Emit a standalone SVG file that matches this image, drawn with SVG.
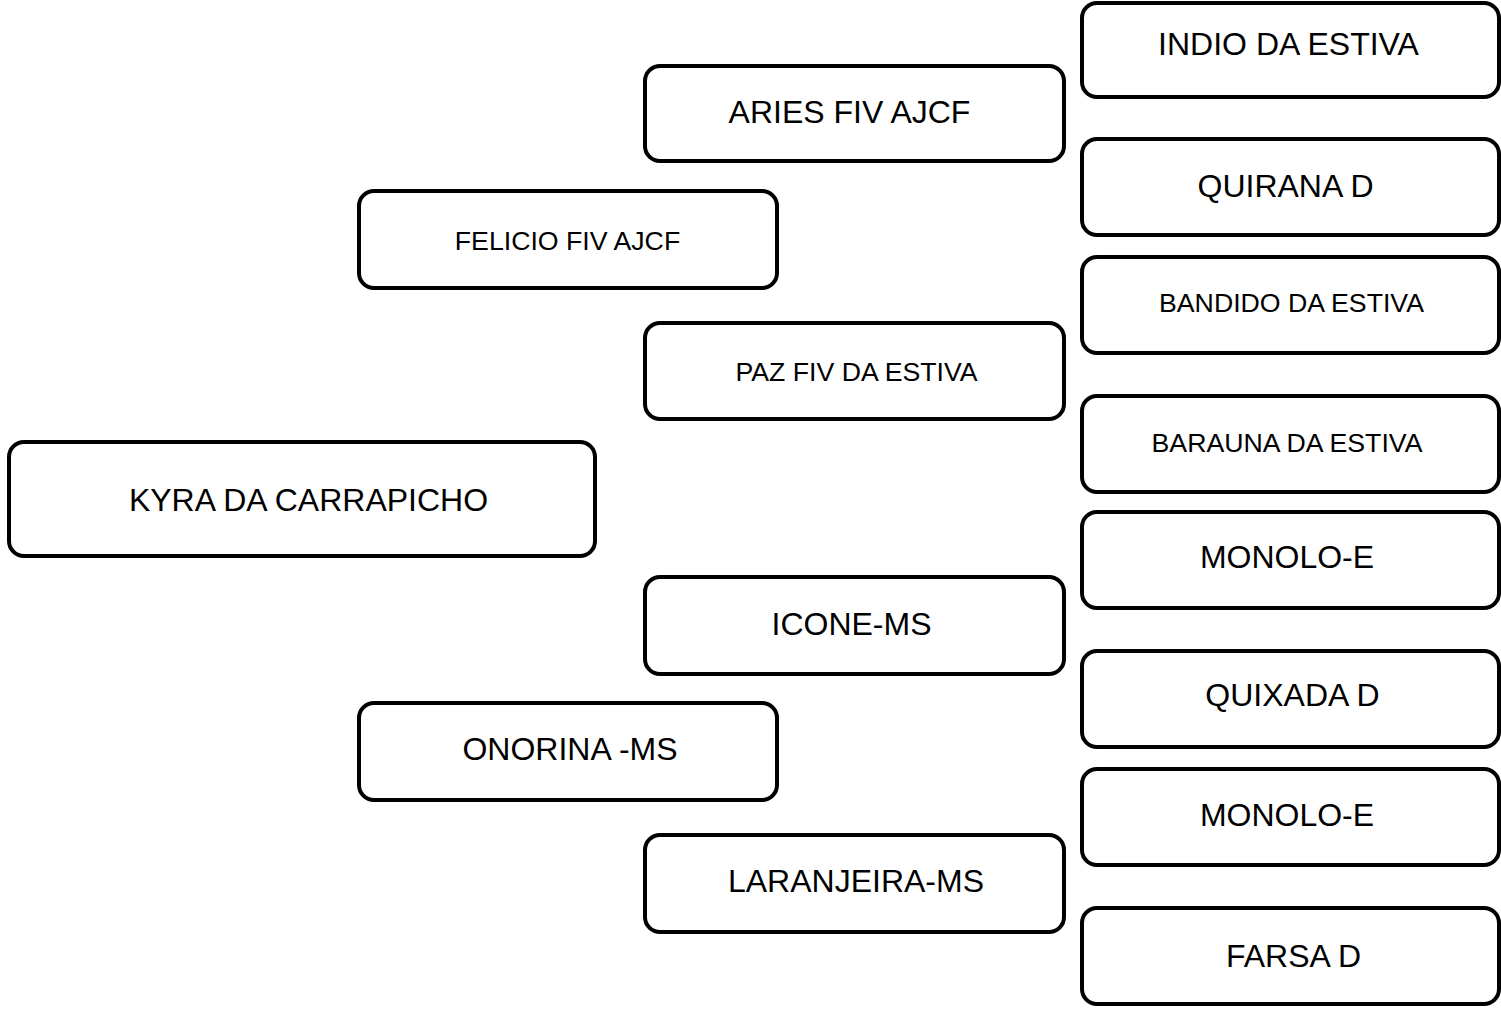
<svg xmlns="http://www.w3.org/2000/svg" width="1501" height="1011" viewBox="0 0 1501 1011">
<style>
.box{fill:#fff;stroke:#000;stroke-width:4}
.t{font-family:"Liberation Sans",Arial,sans-serif;fill:#000;text-anchor:middle}
.l{font-size:32px}
.s{font-size:26.7px}
</style>
<rect width="1501" height="1011" fill="#fff"/>
<g id="connectors"></g>
<g id="n-kyra"><rect class="box" x="9" y="442" width="586" height="114" rx="15"/><text class="t l" x="308.5" y="511">KYRA DA CARRAPICHO</text></g>
<g id="n-felicio"><rect class="box" x="359" y="191" width="418" height="97" rx="15"/><text class="t s" x="567.5" y="250">FELICIO FIV AJCF</text></g>
<g id="n-onorina"><rect class="box" x="359" y="703" width="418" height="97" rx="15"/><text class="t l" x="570" y="760">ONORINA -MS</text></g>
<g id="n-aries"><rect class="box" x="645" y="66" width="419" height="95" rx="15"/><text class="t l" x="849.5" y="123">ARIES FIV AJCF</text></g>
<g id="n-paz"><rect class="box" x="645" y="323" width="419" height="96" rx="15"/><text class="t s" x="856.5" y="381">PAZ FIV DA ESTIVA</text></g>
<g id="n-icone"><rect class="box" x="645" y="577" width="419" height="97" rx="15"/><text class="t l" x="851.5" y="635">ICONE-MS</text></g>
<g id="n-laranjeira"><rect class="box" x="645" y="835" width="419" height="97" rx="15"/><text class="t l" x="856" y="892">LARANJEIRA-MS</text></g>
<g id="n-indio"><rect class="box" x="1082" y="3" width="417" height="94" rx="15"/><text class="t l" x="1288.5" y="55">INDIO DA ESTIVA</text></g>
<g id="n-quirana"><rect class="box" x="1082" y="139" width="417" height="96" rx="15"/><text class="t l" x="1285.5" y="197">QUIRANA D</text></g>
<g id="n-bandido"><rect class="box" x="1082" y="257" width="417" height="96" rx="15"/><text class="t s" x="1291.5" y="312">BANDIDO DA ESTIVA</text></g>
<g id="n-barauna"><rect class="box" x="1082" y="396" width="417" height="96" rx="15"/><text class="t s" x="1287" y="452">BARAUNA DA ESTIVA</text></g>
<g id="n-monolo1"><rect class="box" x="1082" y="512" width="417" height="96" rx="15"/><text class="t l" x="1287" y="568">MONOLO-E</text></g>
<g id="n-quixada"><rect class="box" x="1082" y="651" width="417" height="96" rx="15"/><text class="t l" x="1292.5" y="706">QUIXADA D</text></g>
<g id="n-monolo2"><rect class="box" x="1082" y="769" width="417" height="96" rx="15"/><text class="t l" x="1287" y="826">MONOLO-E</text></g>
<g id="n-farsa"><rect class="box" x="1082" y="908" width="417" height="96" rx="15"/><text class="t l" x="1293.5" y="967">FARSA D</text></g>
</svg>
